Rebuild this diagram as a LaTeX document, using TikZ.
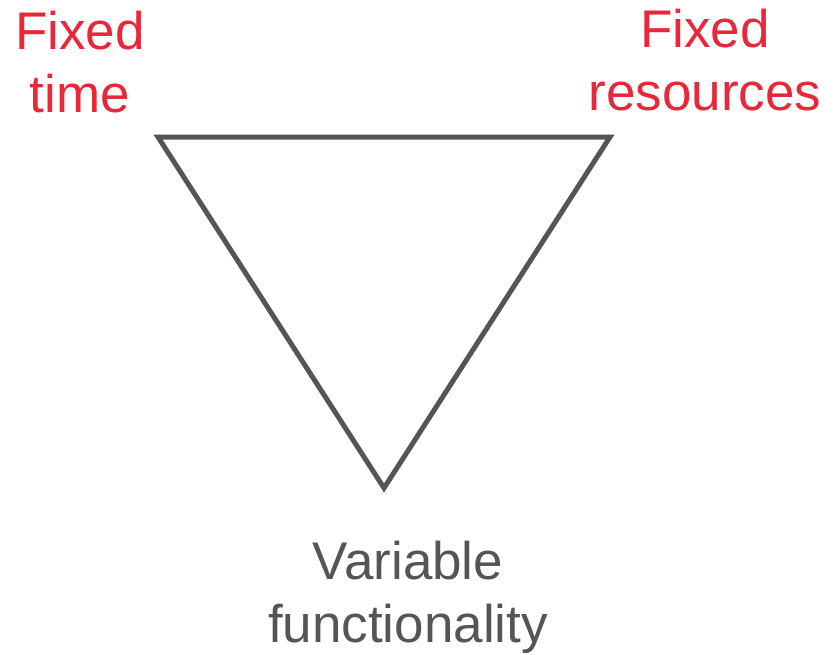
\documentclass[tikz,border=0pt]{standalone}
\usepackage{fontspec}
\setmainfont{Liberation Sans}
\definecolor{redlabel}{HTML}{E8283A}
\definecolor{graytri}{HTML}{555555}
\begin{document}
\begin{tikzpicture}[x=1pt,y=-1pt,
  lbl/.style={inner sep=0pt,anchor=north,align=center,font=\fontsize{53}{63}\selectfont},
  tri/.style={draw=graytri,line width=5pt}]
\useasboundingbox (0,0) rectangle (840,654);
\coordinate (tl) at (158,137);
\coordinate (tr) at (610,137);
\coordinate (bt) at (384,488);
\draw[tri] (tl) -- (tr) -- (bt) -- cycle;
\node[lbl,text=redlabel] (ft) at (80,11) {Fixed\\time};
\node[lbl,text=redlabel] (fr) at (705,9) {Fixed\\resources};
\node[lbl,text=graytri] (vf) at (408,541) {Variable\\functionality};
\end{tikzpicture}
\end{document}
